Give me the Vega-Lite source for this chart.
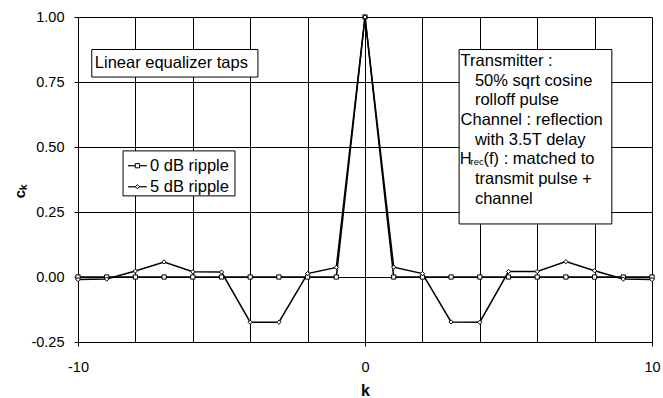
{
  "$schema": "https://vega.github.io/schema/vega-lite/v6.json",
  "width": 574,
  "height": 325,
  "autosize": {"type": "none"},
  "padding": {"left": 78, "top": 17, "right": 11, "bottom": 56},
  "config": {"font": "Liberation Sans", "view": {"stroke": null}},
  "datasets": {
    "taps": [
      {"series": "0 dB ripple", "k": -10, "c": 0},
      {"series": "0 dB ripple", "k": -9, "c": 0},
      {"series": "0 dB ripple", "k": -8, "c": 0},
      {"series": "0 dB ripple", "k": -7, "c": 0},
      {"series": "0 dB ripple", "k": -6, "c": 0},
      {"series": "0 dB ripple", "k": -5, "c": 0},
      {"series": "0 dB ripple", "k": -4, "c": 0},
      {"series": "0 dB ripple", "k": -3, "c": 0},
      {"series": "0 dB ripple", "k": -2, "c": 0},
      {"series": "0 dB ripple", "k": -1, "c": 0},
      {"series": "0 dB ripple", "k": 0, "c": 1},
      {"series": "0 dB ripple", "k": 1, "c": 0},
      {"series": "0 dB ripple", "k": 2, "c": 0},
      {"series": "0 dB ripple", "k": 3, "c": 0},
      {"series": "0 dB ripple", "k": 4, "c": 0},
      {"series": "0 dB ripple", "k": 5, "c": 0},
      {"series": "0 dB ripple", "k": 6, "c": 0},
      {"series": "0 dB ripple", "k": 7, "c": 0},
      {"series": "0 dB ripple", "k": 8, "c": 0},
      {"series": "0 dB ripple", "k": 9, "c": 0},
      {"series": "0 dB ripple", "k": 10, "c": 0},
      {"series": "5 dB ripple", "k": -10, "c": -0.010},
      {"series": "5 dB ripple", "k": -9, "c": -0.008},
      {"series": "5 dB ripple", "k": -8, "c": 0.023},
      {"series": "5 dB ripple", "k": -7, "c": 0.058},
      {"series": "5 dB ripple", "k": -6, "c": 0.020},
      {"series": "5 dB ripple", "k": -5, "c": 0.019},
      {"series": "5 dB ripple", "k": -4, "c": -0.174},
      {"series": "5 dB ripple", "k": -3, "c": -0.174},
      {"series": "5 dB ripple", "k": -2, "c": 0.013},
      {"series": "5 dB ripple", "k": -1, "c": 0.037},
      {"series": "5 dB ripple", "k": 0, "c": 1.0},
      {"series": "5 dB ripple", "k": 1, "c": 0.038},
      {"series": "5 dB ripple", "k": 2, "c": 0.013},
      {"series": "5 dB ripple", "k": 3, "c": -0.173},
      {"series": "5 dB ripple", "k": 4, "c": -0.174},
      {"series": "5 dB ripple", "k": 5, "c": 0.021},
      {"series": "5 dB ripple", "k": 6, "c": 0.021},
      {"series": "5 dB ripple", "k": 7, "c": 0.059},
      {"series": "5 dB ripple", "k": 8, "c": 0.024},
      {"series": "5 dB ripple", "k": 9, "c": -0.008},
      {"series": "5 dB ripple", "k": 10, "c": -0.010}
    ],
    "boxes": [
      {"x1": -9.52, "x2": -3.73, "y1": 0.769, "y2": 0.875},
      {"x1": 3.28, "x2": 8.6, "y1": 0.204, "y2": 0.875},
      {"x1": -8.43, "x2": -4.53, "y1": 0.312, "y2": 0.485}
    ],
    "keys": [
      {"series": "0 dB ripple", "k1": -8.26, "k2": -7.60, "km": -7.93, "kt": -7.49, "c": 0.428},
      {"series": "5 dB ripple", "k1": -8.26, "k2": -7.60, "km": -7.93, "kt": -7.49, "c": 0.347}
    ],
    "notes": [
      {"k": -9.415, "c": 0.822, "label": "Linear equalizer taps"},
      {"k": 3.33, "c": 0.832, "label": "Transmitter :"},
      {"k": 3.83, "c": 0.755, "label": "50% sqrt cosine"},
      {"k": 3.83, "c": 0.679, "label": "rolloff pulse"},
      {"k": 3.33, "c": 0.605, "label": "Channel : reflection"},
      {"k": 3.83, "c": 0.528, "label": "with 3.5T delay"},
      {"k": 3.30, "c": 0.454, "label": "H"},
      {"k": 4.13, "c": 0.454, "label": "(f) : matched to"},
      {"k": 3.83, "c": 0.377, "label": "transmit pulse +"},
      {"k": 3.83, "c": 0.300, "label": "channel"}
    ],
    "subs": [
      {"k": 3.676, "c": 0.442, "label": "rec"}
    ]
  },
  "layer": [
    {
      "data": {"name": "taps"},
      "mark": {"type": "line", "color": "black", "strokeWidth": 1.5},
      "encoding": {
        "x": {
          "field": "k", "type": "quantitative",
          "scale": {"domain": [-10, 10], "nice": false, "zero": false},
          "axis": {
            "values": [-10, -9, -8, -7, -6, -5, -4, -3, -2, -1, 0, 1, 2, 3, 4, 5, 6, 7, 8, 9, 10],
            "labelExpr": "datum.value % 5 === 0 ? replace(datum.label, '−', '-') : ''",
            "labelFlush": false,
            "labelBound": false,
            "labelOverlap": false,
            "grid": true, "gridColor": "black", "gridOpacity": 1, "gridWidth": 1,
            "domainColor": "black",
            "tickColor": "black", "tickSize": 4,
            "tickOpacity": {"condition": {"test": "datum.value % 5 === 0", "value": 1}, "value": 0},
            "labelFontSize": 14.5, "labelColor": "black", "labelPadding": 14,
            "title": "k", "titleFontSize": 16, "titleFontWeight": "bold", "titleColor": "black",
            "titleBaseline": "alphabetic", "titleY": 53
          }
        },
        "y": {
          "field": "c", "type": "quantitative",
          "scale": {"domain": [-0.25, 1], "nice": false, "zero": false},
          "axis": {
            "values": [-0.25, 0, 0.25, 0.5, 0.75, 1],
            "format": ".2f",
            "labelExpr": "replace(datum.label, '−', '-')",
            "grid": true, "gridColor": "black", "gridOpacity": 1, "gridWidth": 1,
            "domainColor": "black",
            "tickColor": "black", "tickSize": 4,
            "labelFontSize": 14.5, "labelColor": "black", "labelPadding": 10,
            "labelFlush": false, "labelBound": false, "labelOverlap": false,
            "title": "cₖ", "titleFontSize": 15, "titleFontWeight": "bold", "titleColor": "black",
            "titleX": -59, "titleY": 174, "titleAlign": "center", "titleBaseline": "middle", "titleAngle": 270
          }
        },
        "detail": {"field": "series", "type": "nominal"}
      }
    },
    {
      "data": {"name": "taps"},
      "transform": [{"filter": "datum.series === '0 dB ripple'"}],
      "mark": {"type": "point", "shape": "square", "filled": true, "fill": "white", "stroke": "black", "strokeWidth": 1, "size": 18, "opacity": 1},
      "encoding": {
        "x": {"field": "k", "type": "quantitative"},
        "y": {"field": "c", "type": "quantitative"}
      }
    },
    {
      "data": {"name": "taps"},
      "transform": [{"filter": "datum.series === '5 dB ripple'"}],
      "mark": {"type": "point", "shape": "diamond", "filled": true, "fill": "white", "stroke": "black", "strokeWidth": 1, "size": 18, "opacity": 1},
      "encoding": {
        "x": {"field": "k", "type": "quantitative"},
        "y": {"field": "c", "type": "quantitative"}
      }
    },
    {
      "data": {"name": "boxes"},
      "mark": {"type": "rect", "fill": "white", "stroke": "black", "strokeWidth": 1},
      "encoding": {
        "x": {"field": "x1", "type": "quantitative"},
        "x2": {"field": "x2"},
        "y": {"field": "y1", "type": "quantitative"},
        "y2": {"field": "y2"}
      }
    },
    {
      "data": {"name": "keys"},
      "mark": {"type": "rule", "color": "black", "strokeWidth": 1.2},
      "encoding": {
        "x": {"field": "k1", "type": "quantitative"},
        "x2": {"field": "k2"},
        "y": {"field": "c", "type": "quantitative"}
      }
    },
    {
      "data": {"name": "keys"},
      "transform": [{"filter": "datum.series === '0 dB ripple'"}],
      "mark": {"type": "point", "shape": "square", "filled": true, "fill": "white", "stroke": "black", "strokeWidth": 1, "size": 18, "opacity": 1},
      "encoding": {
        "x": {"field": "km", "type": "quantitative"},
        "y": {"field": "c", "type": "quantitative"}
      }
    },
    {
      "data": {"name": "keys"},
      "transform": [{"filter": "datum.series === '5 dB ripple'"}],
      "mark": {"type": "point", "shape": "diamond", "filled": true, "fill": "white", "stroke": "black", "strokeWidth": 1, "size": 18, "opacity": 1},
      "encoding": {
        "x": {"field": "km", "type": "quantitative"},
        "y": {"field": "c", "type": "quantitative"}
      }
    },
    {
      "data": {"name": "keys"},
      "mark": {"type": "text", "align": "left", "baseline": "middle", "fontSize": 16.5, "color": "black"},
      "encoding": {
        "x": {"field": "kt", "type": "quantitative"},
        "y": {"field": "c", "type": "quantitative"},
        "text": {"field": "series"}
      }
    },
    {
      "data": {"name": "notes"},
      "mark": {"type": "text", "align": "left", "baseline": "middle", "fontSize": 16.5, "color": "black"},
      "encoding": {
        "x": {"field": "k", "type": "quantitative"},
        "y": {"field": "c", "type": "quantitative"},
        "text": {"field": "label"}
      }
    },
    {
      "data": {"name": "subs"},
      "mark": {"type": "text", "align": "left", "baseline": "middle", "fontSize": 9.5, "color": "black"},
      "encoding": {
        "x": {"field": "k", "type": "quantitative"},
        "y": {"field": "c", "type": "quantitative"},
        "text": {"field": "label"}
      }
    }
  ]
}
